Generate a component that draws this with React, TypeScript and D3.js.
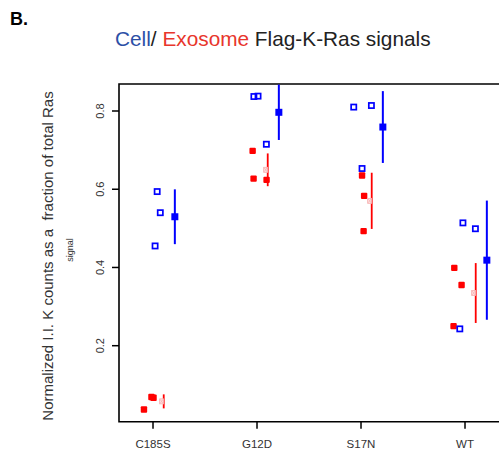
import { useEffect, useRef } from 'react';
import * as d3 from 'd3';

const categories = ['C185S', 'G12D', 'S17N', 'WT'];

// cell (blue open squares) and exosome (red filled squares) replicates
const cellValues = [
  [0.594, 0.540, 0.455],
  [0.837, 0.838, 0.715],
  [0.810, 0.814, 0.653],
  [0.514, 0.499, 0.243],
];
const exoValues = [
  [0.069, 0.067, 0.037],
  [0.698, 0.627, 0.624],
  [0.635, 0.583, 0.493],
  [0.399, 0.355, 0.250],
];
// horizontal jitter of each replicate, in category units
const cellJitter = [
  [0.04, 0.07, 0.02],
  [-0.03, 0.01, 0.09],
  [-0.07, 0.1, 0.01],
  [-0.02, 0.1, -0.05],
];
const exoJitter = [
  [-0.015, 0.005, -0.087],
  [-0.042, -0.033, 0.092],
  [0.01, 0.03, 0.025],
  [-0.103, -0.033, -0.11],
];
const yTicks = [0.2, 0.4, 0.6, 0.8];

export default function App() {
  const svgRef = useRef<SVGSVGElement>(null);

  useEffect(() => {
    const svg = d3.select(svgRef.current);
    svg.selectAll('*').remove();

    const left = 119;
    const top = 84;
    const bottom = 421.7;

    const x = d3.scaleLinear().domain([-0.327, 3.5]).range([left, left + 3.827 * 104]);
    const y = d3.scaleLinear().domain([0.2, 0.8]).range([345.7, 111]);

    const blue = '#0000ff';
    const red = '#ff0000';

    // title
    svg.append('text')
      .attr('x', 10).attr('y', 25)
      .style('font-family', 'Liberation Sans, Arial, sans-serif')
      .style('font-size', '18px').style('font-weight', 'bold')
      .text('B.');

    const title = svg.append('text')
      .attr('x', 115).attr('y', 46)
      .style('font-family', 'Liberation Sans, Arial, sans-serif')
      .style('font-size', '20.8px')
      .attr('fill', '#222');
    title.append('tspan').attr('fill', '#2c4fa6').text('Cell');
    title.append('tspan').text('/ ');
    title.append('tspan').attr('fill', '#e8362c').text('Exosome');
    title.append('tspan').text(' Flag-K-Ras signals');

    // box (right edge runs past the view)
    svg.append('path')
      .attr('d', `M${x.range()[1]},${top}H${left}V${bottom}H${x.range()[1]}`)
      .attr('fill', 'none').attr('stroke', '#000').attr('stroke-width', 1.6);

    // y ticks
    const yt = svg.append('g');
    yTicks.forEach(t => {
      yt.append('line')
        .attr('x1', left - 7).attr('x2', left)
        .attr('y1', y(t)).attr('y2', y(t))
        .attr('stroke', '#000').attr('stroke-width', 1.5);
      yt.append('text')
        .attr('transform', `translate(104,${y(t)}) rotate(-90)`)
        .attr('text-anchor', 'middle')
        .style('font-family', 'Liberation Sans, Arial, sans-serif')
        .style('font-size', '11px')
        .attr('fill', '#333')
        .text(t.toFixed(1));
    });

    // x ticks
    categories.forEach((c, i) => {
      svg.append('line')
        .attr('x1', x(i)).attr('x2', x(i))
        .attr('y1', bottom).attr('y2', bottom + 7)
        .attr('stroke', '#000').attr('stroke-width', 1.5);
      svg.append('text')
        .attr('x', x(i)).attr('y', 447.5)
        .attr('text-anchor', 'middle')
        .style('font-family', 'Liberation Sans, Arial, sans-serif')
        .style('font-size', '11.5px')
        .attr('fill', '#333')
        .text(c);
    });

    // axis titles
    svg.append('text')
      .attr('transform', `translate(53,256) rotate(-90)`)
      .attr('text-anchor', 'middle')
      .style('font-family', 'Liberation Sans, Arial, sans-serif')
      .style('font-size', '15px')
      .attr('fill', '#333')
      .style('white-space', 'pre')
      .text('Normalized I.I. K counts as a  fraction of total Ras');
    svg.append('text')
      .attr('transform', `translate(72.5,250) rotate(-90)`)
      .attr('text-anchor', 'middle')
      .style('font-family', 'Liberation Sans, Arial, sans-serif')
      .style('font-size', '9px')
      .attr('fill', '#333')
      .text('signal');

    const plot = svg.append('g');

    categories.forEach((_, i) => {
      const cv = cellValues[i];
      const ev = exoValues[i];
      const cMean = d3.mean(cv) as number;
      const cSd = d3.deviation(cv) as number;
      const eMean = d3.mean(ev) as number;
      const eSd = d3.deviation(ev) as number;

      // exosome replicates
      ev.forEach((v, j) => {
        plot.append('rect')
          .attr('x', x(i + exoJitter[i][j]) - 3.2).attr('y', y(v) - 3.2)
          .attr('width', 6.4).attr('height', 6.4)
          .attr('rx', 1)
          .attr('fill', red);
      });
      // exosome sd bar and mean marker
      plot.append('line')
        .attr('x1', x(i + 0.103)).attr('x2', x(i + 0.103))
        .attr('y1', Math.max(top, y(eMean + eSd))).attr('y2', y(eMean - eSd))
        .attr('stroke', red).attr('stroke-width', 1.8);
      const mx = x(i + 0.083);
      const my = y(eMean);
      plot.append('rect')
        .attr('x', mx - 2).attr('y', my - 2.5)
        .attr('width', 4).attr('height', 5)
        .attr('fill', '#fde0e0').attr('stroke', '#f7b0b0').attr('stroke-width', 0.8);
      plot.append('path')
        .attr('d', `M${mx - 1.5},${my - 2}L${mx + 1.5},${my + 2}M${mx + 1.5},${my - 2}L${mx - 1.5},${my + 2}`)
        .attr('stroke', '#f7b0b0').attr('stroke-width', 0.7);

      // cell replicates
      cv.forEach((v, j) => {
        plot.append('rect')
          .attr('x', x(i + cellJitter[i][j]) - 2.6).attr('y', y(v) - 2.6)
          .attr('width', 5.2).attr('height', 5.2)
          .attr('fill', 'none').attr('stroke', blue).attr('stroke-width', 1.7);
      });
      // cell sd bar and mean
      const bx = x(i + 0.21);
      plot.append('line')
        .attr('x1', bx).attr('x2', bx)
        .attr('y1', Math.max(top, y(cMean + cSd))).attr('y2', y(cMean - cSd))
        .attr('stroke', blue).attr('stroke-width', 2);
      plot.append('rect')
        .attr('x', bx - 3.5).attr('y', y(cMean) - 3.5)
        .attr('width', 7).attr('height', 7)
        .attr('fill', blue);
    });
  }, []);

  return (
    <svg
      ref={svgRef}
      width={499}
      height={450}
      style={{ position: 'absolute', left: 0, top: 0, background: '#fff' }}
    />
  );
}
